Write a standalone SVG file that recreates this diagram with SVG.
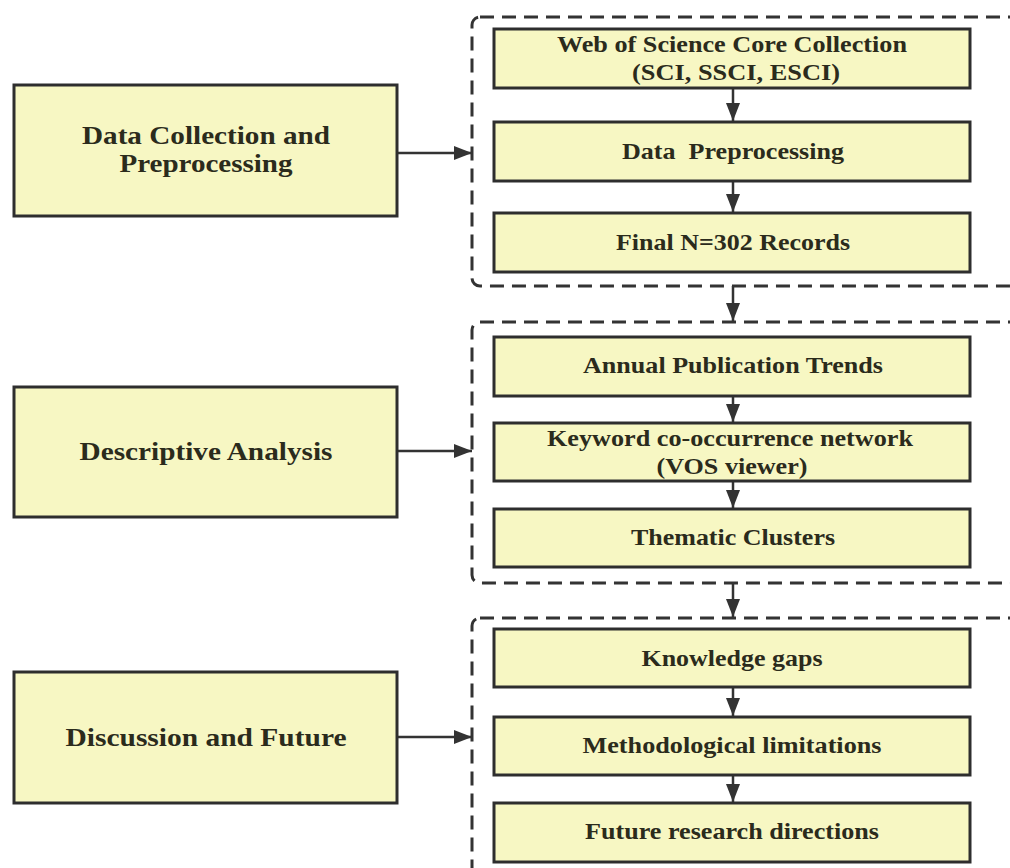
<svg xmlns="http://www.w3.org/2000/svg" width="1010" height="868" viewBox="0 0 1010 868">
<defs>
<style>
.box{fill:#f7f7c3;stroke:#2e2e2e;stroke-width:3}
.grp{fill:none;stroke:#333;stroke-width:3;stroke-dasharray:14 8}
.t{font-family:"Liberation Serif","Times New Roman",serif;font-weight:bold;fill:#2b2b1c;text-anchor:middle}
.l{font-size:26px}
.r{font-size:23px}
.c{stroke:#333;stroke-width:2.5;fill:none}
</style>
<marker id="ah" viewBox="0 0 18 14" refX="18" refY="7" markerWidth="18" markerHeight="14" orient="auto" markerUnits="userSpaceOnUse">
<path d="M0,0 L18,7 L0,14 z" fill="#333"/>
</marker>
</defs>
<rect width="1010" height="868" fill="#fff"/>
<g id="containers">
<rect class="grp" x="472" y="17" width="560" height="269" rx="8"/>
<rect class="grp" x="472" y="322" width="560" height="261" rx="8"/>
<rect class="grp" x="472" y="618" width="560" height="270" rx="8"/>
</g>
<g id="connectors">
<line class="c" x1="397" y1="153" x2="472" y2="153" marker-end="url(#ah)"/>
<line class="c" x1="397" y1="451" x2="472" y2="451" marker-end="url(#ah)"/>
<line class="c" x1="397" y1="737" x2="472" y2="737" marker-end="url(#ah)"/>
<line class="c" x1="733" y1="88" x2="733" y2="121" marker-end="url(#ah)"/>
<line class="c" x1="733" y1="181" x2="733" y2="212" marker-end="url(#ah)"/>
<line class="c" x1="733" y1="286" x2="733" y2="321" marker-end="url(#ah)"/>
<line class="c" x1="733" y1="396" x2="733" y2="422" marker-end="url(#ah)"/>
<line class="c" x1="733" y1="481" x2="733" y2="508" marker-end="url(#ah)"/>
<line class="c" x1="733" y1="583" x2="733" y2="617" marker-end="url(#ah)"/>
<line class="c" x1="733" y1="687" x2="733" y2="716" marker-end="url(#ah)"/>
<line class="c" x1="733" y1="775" x2="733" y2="802" marker-end="url(#ah)"/>
</g>
<g id="n-data-collection">
<rect class="box" x="14" y="85" width="383" height="131"/>
<text class="t l" x="206" y="144" textLength="248" lengthAdjust="spacingAndGlyphs">Data Collection and</text>
<text class="t l" x="206" y="172" textLength="173" lengthAdjust="spacingAndGlyphs">Preprocessing</text>
</g>
<g id="n-descriptive">
<rect class="box" x="14" y="387" width="383" height="130"/>
<text class="t l" x="206" y="460" textLength="253" lengthAdjust="spacingAndGlyphs">Descriptive Analysis</text>
</g>
<g id="n-discussion">
<rect class="box" x="14" y="672" width="383" height="131"/>
<text class="t l" x="206" y="746" textLength="281" lengthAdjust="spacingAndGlyphs">Discussion and Future</text>
</g>
<g id="n-wos">
<rect class="box" x="494" y="29" width="476" height="59"/>
<text class="t r" x="732" y="52" textLength="350" lengthAdjust="spacingAndGlyphs">Web of Science Core Collection</text>
<text class="t r" x="736" y="80" textLength="208" lengthAdjust="spacingAndGlyphs">(SCI, SSCI, ESCI)</text>
</g>
<g id="n-preproc">
<rect class="box" x="494" y="122" width="476" height="59"/>
<text class="t r" x="733" y="159" textLength="222" lengthAdjust="spacingAndGlyphs" xml:space="preserve">Data  Preprocessing</text>
</g>
<g id="n-final">
<rect class="box" x="494" y="213" width="476" height="59"/>
<text class="t r" x="733" y="250" textLength="234" lengthAdjust="spacingAndGlyphs">Final N=302 Records</text>
</g>
<g id="n-annual">
<rect class="box" x="494" y="337" width="476" height="59"/>
<text class="t r" x="733" y="373" textLength="300" lengthAdjust="spacingAndGlyphs">Annual Publication Trends</text>
</g>
<g id="n-keyword">
<rect class="box" x="494" y="423" width="476" height="58"/>
<text class="t r" x="730" y="446" textLength="366" lengthAdjust="spacingAndGlyphs">Keyword co-occurrence network</text>
<text class="t r" x="732" y="474" textLength="151" lengthAdjust="spacingAndGlyphs">(VOS viewer)</text>
</g>
<g id="n-thematic">
<rect class="box" x="494" y="509" width="476" height="58"/>
<text class="t r" x="733" y="545" textLength="204" lengthAdjust="spacingAndGlyphs">Thematic Clusters</text>
</g>
<g id="n-gaps">
<rect class="box" x="494" y="629" width="476" height="58"/>
<text class="t r" x="732" y="666" textLength="181" lengthAdjust="spacingAndGlyphs">Knowledge gaps</text>
</g>
<g id="n-method">
<rect class="box" x="494" y="717" width="476" height="58"/>
<text class="t r" x="732" y="753" textLength="299" lengthAdjust="spacingAndGlyphs">Methodological limitations</text>
</g>
<g id="n-future">
<rect class="box" x="494" y="803" width="476" height="59"/>
<text class="t r" x="732" y="839" textLength="294" lengthAdjust="spacingAndGlyphs">Future research directions</text>
</g>
</svg>
